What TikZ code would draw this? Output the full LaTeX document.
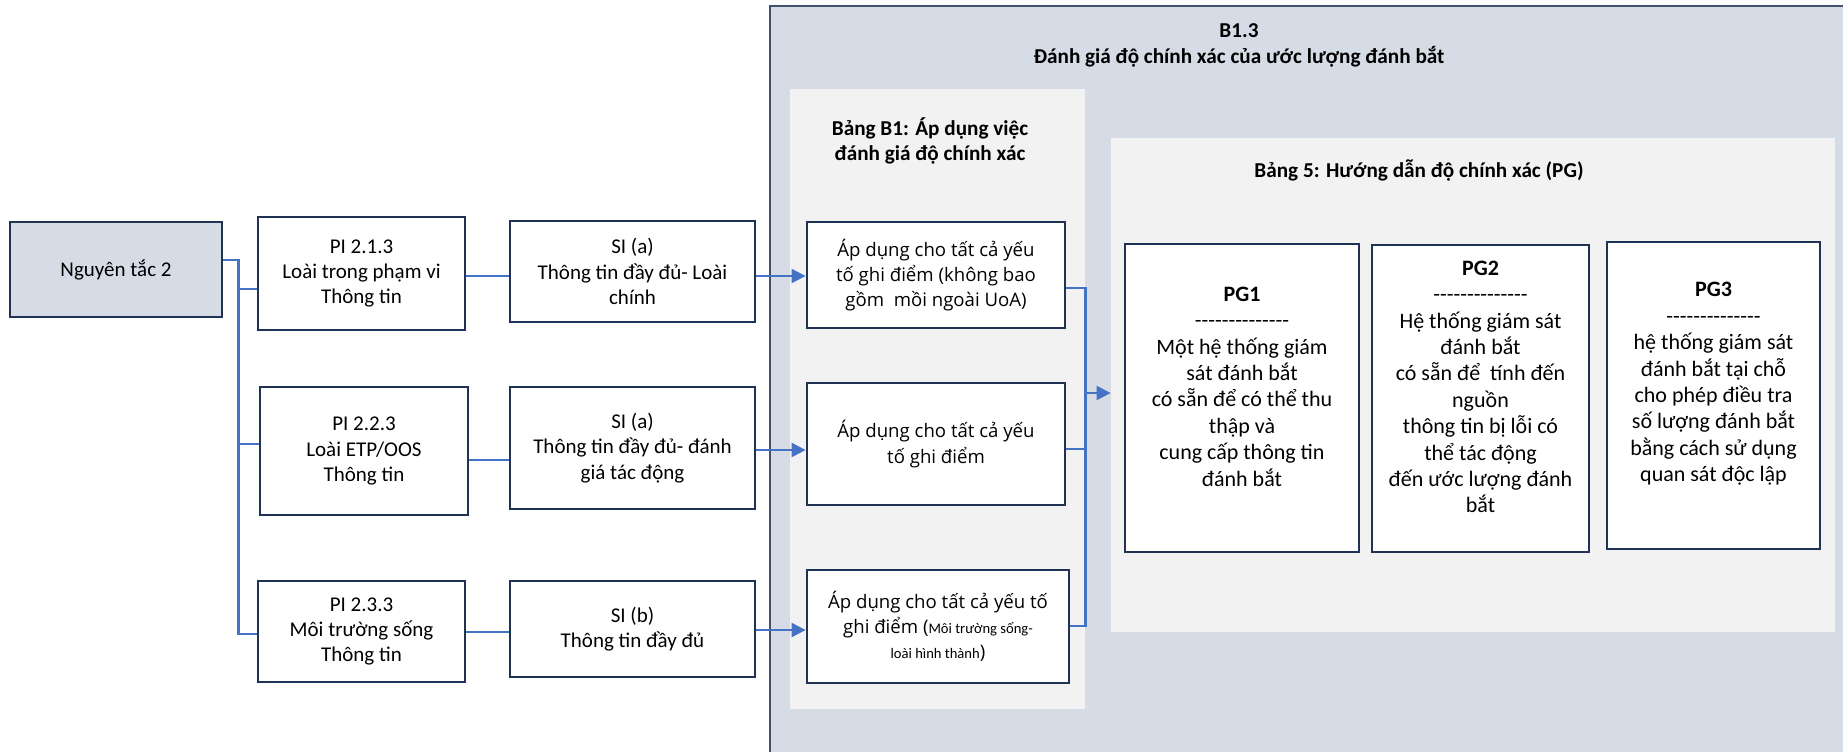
\documentclass[tikz,border=0pt]{standalone}
\usepackage{fontspec}
\usepackage{tikz}
\usetikzlibrary{arrows.meta, calc}
\newfontfamily\calfont{Carlito}
\newfontfamily\segfont{Open Sans}
\definecolor{navy}{HTML}{203354}
\definecolor{panelblue}{HTML}{D6DCE5}
\definecolor{panelgray}{HTML}{F2F2F2}
\definecolor{linkblue}{HTML}{4472C4}
\tikzset{
  box/.style={draw=navy, line width=1.4pt, fill=white, align=center, inner sep=0pt, font=\calfont\fontsize{10.5}{12.6}\selectfont},
  rootbox/.style={box, fill=panelblue},
  applybox/.style={box, font=\segfont\fontsize{9.3}{12.6}\selectfont},
  pgtext/.style={align=center, inner sep=0pt, font=\calfont\fontsize{11}{13.2}\selectfont},
  paneltitle/.style={align=center, inner sep=0pt, font=\calfont\bfseries\fontsize{10.6}{12.8}\selectfont},
  panel/.style={fill=panelgray, inner sep=0pt},
  link/.style={draw=linkblue, line width=1.1pt},
  feed/.style={link, -{Triangle[length=7pt, width=7pt]}}
}
\newcommand{\smallcal}{\calfont\fontsize{7.3}{12.6}\selectfont}

\begin{document}
\begin{tikzpicture}[x=0.5pt, y=-0.5pt]
\useasboundingbox (0,0) rectangle (1843,752);

% Background panels
\fill[panelblue] (770,6) rectangle (1843,752);
\draw[navy!85, line width=0.9pt] (770,752) -- (770,6) -- (1843,6);
\node[panel, minimum width=147.5pt, minimum height=310pt] (tabB1) at (937.5,399) {};
\node[panel, minimum width=362pt, minimum height=247pt] (tab5) at (1473,385) {};

% Titles
\node[paneltitle] (mainttl) at (1239,45.5) {B1.3\\Đánh giá độ chính xác của ước lượng đánh bắt};
\node[paneltitle] (b1ttl) at (930,141) {Bảng B1: Áp dụng việc\\đánh giá độ chính xác};
\node[paneltitle] (b5ttl) at (1419,171) {Bảng 5: Hướng dẫn độ chính xác (PG)};

% Principle and PIs
\node[rootbox, minimum width=106pt, minimum height=47.5pt] (nt) at (116,269.5) {Nguyên tắc 2};
\node[box, minimum width=103.5pt, minimum height=56.5pt] (pi1) at (361.5,273.5) {PI 2.1.3\\Loài trong phạm vi\\Thông tin};
\node[box, minimum width=104pt, minimum height=64pt] (pi2) at (364,451) {PI 2.2.3\\Loài ETP/OOS\\Thông tin};
\node[box, minimum width=103.5pt, minimum height=50.5pt] (pi3) at (361.5,631.5) {PI 2.3.3\\Môi trường sống\\Thông tin};

% SIs
\node[box, minimum width=122.5pt, minimum height=50.5pt] (si1) at (632.5,271.5) {SI (a)\\Thông tin đầy đủ- Loài\\chính};
\node[box, minimum width=122.5pt, minimum height=61pt] (si2) at (632.5,448) {SI (a)\\Thông tin đầy đủ- đánh\\giá tác động};
\node[box, minimum width=122.5pt, minimum height=48pt] (si3) at (632.5,629) {SI (b)\\Thông tin đầy đủ};

% Table B1 boxes
\node[applybox, minimum width=129pt, minimum height=53pt] (ap1) at (936,275) {Áp dụng cho tất cả yếu\\tố ghi điểm (không bao\\gồm\ \ mồi ngoài UoA)};
\node[applybox, minimum width=129pt, minimum height=61pt] (ap2) at (936,444) {Áp dụng cho tất cả yếu\\tố ghi điểm};
\node[applybox, minimum width=131pt, minimum height=56.5pt] (ap3) at (938,626.5) {Áp dụng cho tất cả yếu tố\\ghi điểm ({\smallcal Môi trường sống-}\\{\smallcal loài hình thành})};

% PG boxes
\node[box, minimum width=117pt, minimum height=154pt] (pg1) at (1242,398) {};
\node[box, minimum width=108.5pt, minimum height=153.5pt] (pg2) at (1480.5,398.5) {};
\node[box, minimum width=106.5pt, minimum height=153.5pt] (pg3) at (1713.5,395.5) {};
\node[pgtext] (pg1txt) at ([yshift=5.75pt]pg1.center) {\textbf{PG1}\\--------------\\Một hệ thống giám\\sát đánh bắt\\có sẵn để có thể thu\\thập và\\cung cấp thông tin\\đánh bắt};
\node[pgtext] (pg2txt) at ([yshift=5.75pt]pg2.center) {\textbf{PG2}\\--------------\\Hệ thống giám sát\\đánh bắt\\có sẵn để\ \ tính đến\\nguồn\\thông tin bị lỗi có\\thể tác động\\đến ước lượng đánh\\bắt};
\node[pgtext] (pg3txt) at ([yshift=5.75pt]pg3.center) {\textbf{PG3}\\--------------\\hệ thống giám sát\\đánh bắt tại chỗ\\cho phép điều tra\\số lượng đánh bắt\\bằng cách sử dụng\\quan sát độc lập};

% Connectors from the principle
\draw[link] ([yshift=4.75pt]nt.east) -- ++(7.5pt,0) |- ([yshift=-7.75pt]pi1.west);
\draw[link] ([yshift=4.75pt]nt.east) -- ++(7.5pt,0) |- ([yshift=3.5pt]pi2.west);
\draw[link] ([yshift=4.75pt]nt.east) -- ++(7.5pt,0) |- ([yshift=-1.25pt]pi3.west);

% PI to SI
\draw[link] ([yshift=-1.25pt]pi1.east) -- ([yshift=-2.25pt]si1.west);
\draw[link] ([yshift=-4.5pt]pi2.east) -- ([yshift=-6pt]si2.west);
\draw[link] ([yshift=-0.25pt]pi3.east) -- ([yshift=-1.5pt]si3.west);

% SI to table B1
\draw[feed] ([yshift=-2.25pt]si1.east) -- ([yshift=-0.5pt]ap1.west);
\draw[feed] ([yshift=-1pt]si2.east) -- ([yshift=-3pt]ap2.west);
\draw[feed] ([yshift=-0.5pt]si3.east) -- ([yshift=-1.75pt]ap3.west);

% Table B1 to table 5
\coordinate (merge) at (1084,393);
\draw[link] ([yshift=-6.5pt]ap1.east) -- ++(9.5pt,0) |- ([yshift=0.25pt]ap3.east);
\draw[link] ([yshift=-2.5pt]ap2.east) -- ++(9.5pt,0);
\draw[feed] (merge) -- (merge -| tab5.west);

\end{tikzpicture}
\end{document}
